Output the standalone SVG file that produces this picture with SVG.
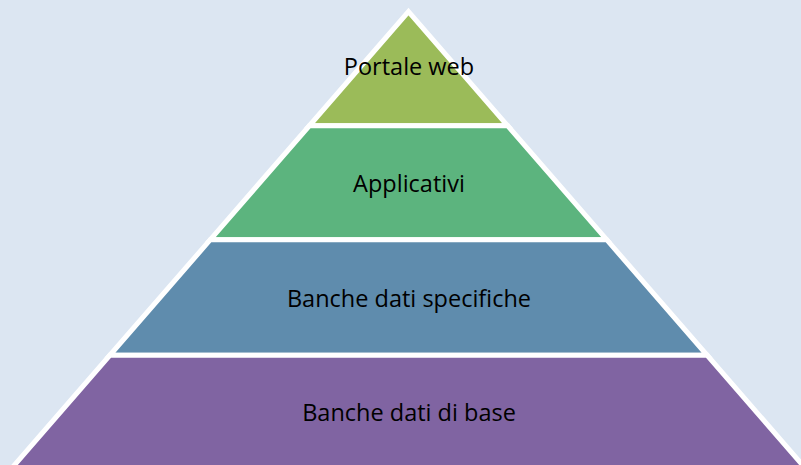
<svg xmlns="http://www.w3.org/2000/svg" width="801" height="465" viewBox="0 0 801 465">
<style>
.layer{stroke:#FFFFFF;stroke-width:5;stroke-linejoin:miter;stroke-miterlimit:10}
.lbl{font-family:"Open Sans","Liberation Sans",sans-serif;font-size:23.5px;fill:#000000;text-anchor:middle}
</style>
<rect x="0" y="0" width="801" height="465" fill="#DCE6F2"/>
<g id="layer-portale-web">
<polygon class="layer" fill="#9BBB59" points="408.5,11.6 507.7,125.8 309.3,125.8"/>
<text class="lbl" x="409" y="75">Portale web</text>
</g>
<g id="layer-applicativi">
<polygon class="layer" fill="#5CB47E" points="309.3,125.8 507.7,125.8 606.7,239.7 210.3,239.7"/>
<text class="lbl" x="409" y="192">Applicativi</text>
</g>
<g id="layer-banche-specifiche">
<polygon class="layer" fill="#5F8CAD" points="210.3,239.7 606.7,239.7 707.2,355.3 109.8,355.3"/>
<text class="lbl" x="409" y="307">Banche dati specifiche</text>
</g>
<g id="layer-banche-base">
<polygon class="layer" fill="#8064A2" points="109.8,355.3 707.2,355.3 806.8,470 10.2,470"/>
<text class="lbl" x="409" y="421">Banche dati di base</text>
</g>
<g id="connectors"></g>
</svg>
